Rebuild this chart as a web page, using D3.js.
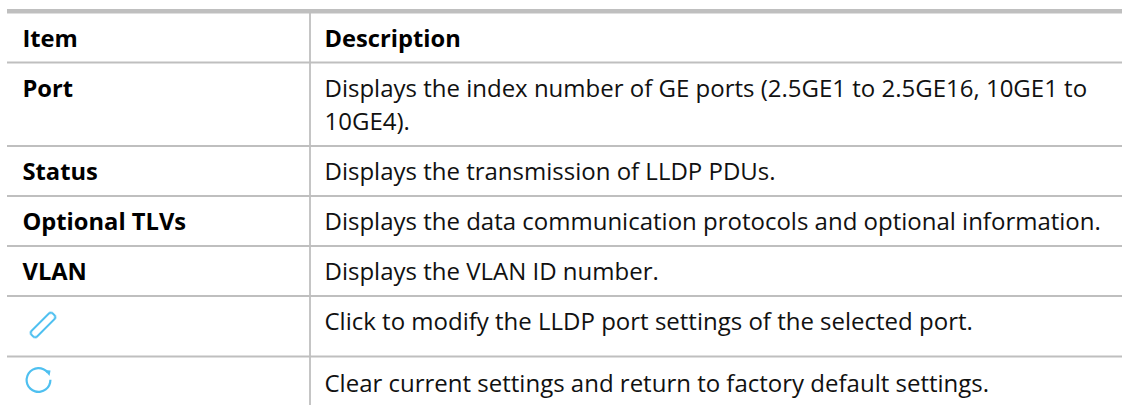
<!DOCTYPE html>
<html>

<head>
    <meta charset="UTF-8">
    <style>
        html, body { margin: 0; padding: 0; background: #fff; }
        svg { display: block; }
        text { font-family: "Open Sans", sans-serif; font-size: 24px; fill: #111; }
        .item { font-weight: 700; font-size: 23.7px; fill: #000; }
    </style>
</head>

<body>
    <svg></svg>
    <script src="https://d3js.org/d3.v7.min.js"></script>

    <script>

        let width = 1122, height = 405;

        // table contents
        let headers = ["Item", "Description"];
        let items = ["Port", "Status", "Optional TLVs", "VLAN"];
        let descriptions = [
            ["Displays the index number of GE ports (2.5GE1 to 2.5GE16, 10GE1 to", "10GE4)."],
            ["Displays the transmission of LLDP PDUs."],
            ["Displays the data communication protocols and optional information."],
            ["Displays the VLAN ID number."],
            ["Click to modify the LLDP port settings of the selected port."],
            ["Clear current settings and return to factory default settings."]
        ];
        // y of the rule above each row
        let rules = [62.5, 146, 196, 246, 296, 356.5];
        let baselines = [97, 180, 230, 280, 330, 392];

        let svg = d3.select("svg")
            .attr("width", width)
            .attr("height", height)
            .attr("viewBox", "0 0 " + width + " " + height);

        let gray = "#bfbfbf";

        // soft edge on the icons, they are scaled bitmaps in the original
        svg.append("filter").attr("id", "soft")
            .append("feGaussianBlur").attr("stdDeviation", 0.4);

        // rules
        svg.append("rect").attr("x", 7).attr("y", 9).attr("width", width - 7).attr("height", 4.5).attr("fill", gray);

        svg.append("g").selectAll("line")
            .data(rules)
            .enter()
            .append("line")
            .attr("x1", 7).attr("x2", width)
            .attr("y1", d => d).attr("y2", d => d)
            .attr("stroke", gray).attr("stroke-width", 1.8);

        svg.append("line")
            .attr("x1", 310).attr("x2", 310)
            .attr("y1", 13).attr("y2", height)
            .attr("stroke", gray).attr("stroke-width", 1.8);

        // header
        svg.append("g").selectAll("text")
            .data(headers)
            .enter()
            .append("text")
            .attr("class", "item")
            .attr("x", (d, i) => i == 0 ? 22.5 : 324.5)
            .attr("y", 47)
            .text(d => d);

        // first column
        svg.append("g").selectAll("text")
            .data(items)
            .enter()
            .append("text")
            .attr("class", "item")
            .attr("x", 22.5)
            .attr("y", (d, i) => baselines[i])
            .text(d => d);

        // second column
        svg.append("g").selectAll("text")
            .data(descriptions)
            .enter()
            .append("text")
            .attr("y", (d, i) => baselines[i])
            .each(function (d) {
                d3.select(this).selectAll("tspan")
                    .data(d)
                    .enter()
                    .append("tspan")
                    .attr("x", 324.5)
                    .attr("dy", (l, j) => j == 0 ? 0 : 33)
                    .text(l => l);
            });

        // icons
        let blue = "#4fc0f0";
        svg.append("rect")
            .attr("x", -4).attr("y", -15).attr("width", 8).attr("height", 30).attr("rx", 3)
            .attr("transform", "translate(43,325) rotate(45)")
            .attr("fill", "none").attr("stroke", blue).attr("stroke-width", 2)
            .attr("filter", "url(#soft)");

        let arc = d3.arc().innerRadius(10.8).outerRadius(13).startAngle(1.55).endAngle(2 * Math.PI + 0.9);
        let reset = svg.append("g").attr("transform", "translate(38.5,380)").attr("filter", "url(#soft)");
        reset.append("path").attr("d", arc()).attr("fill", blue);
        reset.append("path").attr("d", "M6,-10L12,-9.5L11,-4Z").attr("fill", blue);

    </script>
</body>

</html>
